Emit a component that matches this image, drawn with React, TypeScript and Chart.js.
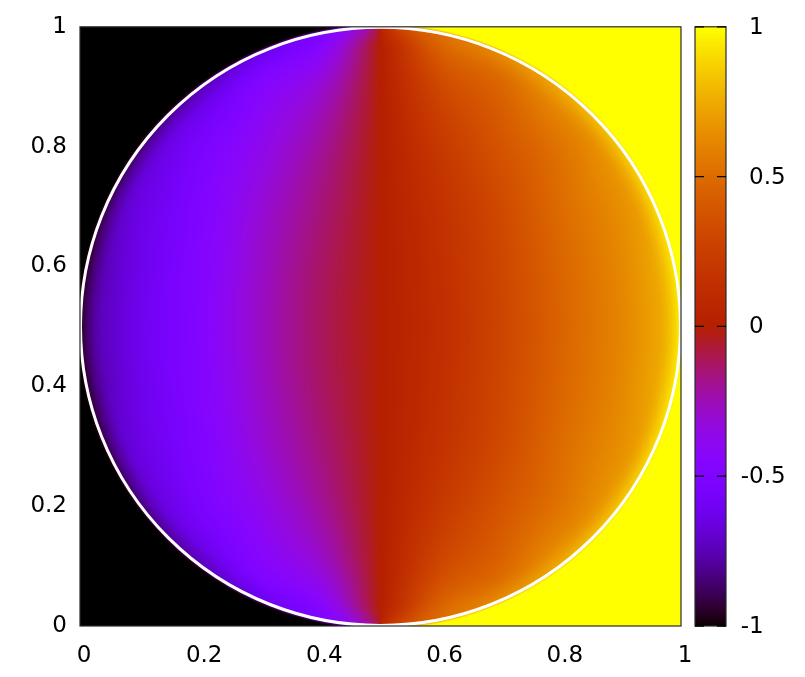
import React, { useEffect, useRef } from "react";
import { Chart, registerables } from "chart.js";

Chart.register(...registerables);

// ---- data ----
const xTicks = [0, 0.2, 0.4, 0.6, 0.8, 1];
const yTicks = [0, 0.2, 0.4, 0.6, 0.8, 1];
const cbTicks = [-1, -0.5, 0, 0.5, 1];
const cbMin = -1;
const cbMax = 1;

// grid nodes of the field
const gridX = [0, 0.1, 0.2, 0.3, 0.4, 0.5, 0.6, 0.7, 0.8, 0.9, 1];
const gridY = [0, 0.1, 0.2, 0.3, 0.4, 0.5, 0.6, 0.7, 0.8, 0.9, 1];
// fieldRows[j][i] = value at (gridX[i], gridY[j]) inside the disc
const fieldRows = [
  [-0.85, -0.85, -0.8, -0.65, -0.5, 0.0, 0.5, 0.65, 0.8, 0.85, 0.85],
  [-0.85, -0.8, -0.68, -0.47, -0.31, 0.0, 0.31, 0.47, 0.68, 0.8, 0.85],
  [-0.85, -0.72, -0.54, -0.38, -0.21, 0.0, 0.21, 0.38, 0.54, 0.72, 0.85],
  [-0.82, -0.65, -0.5, -0.32, -0.16, 0.0, 0.16, 0.32, 0.5, 0.65, 0.82],
  [-0.8, -0.63, -0.48, -0.29, -0.13, 0.0, 0.14, 0.3, 0.47, 0.62, 0.8],
  [-0.78, -0.62, -0.47, -0.28, -0.12, 0.0, 0.13, 0.29, 0.46, 0.61, 0.78],
  [-0.8, -0.63, -0.48, -0.29, -0.13, 0.0, 0.14, 0.3, 0.47, 0.62, 0.8],
  [-0.82, -0.65, -0.5, -0.32, -0.16, 0.0, 0.16, 0.32, 0.5, 0.65, 0.82],
  [-0.85, -0.72, -0.54, -0.38, -0.21, 0.0, 0.21, 0.38, 0.54, 0.72, 0.85],
  [-0.85, -0.8, -0.68, -0.47, -0.31, 0.0, 0.31, 0.47, 0.68, 0.8, 0.85],
  [-0.85, -0.85, -0.8, -0.65, -0.5, 0.0, 0.5, 0.65, 0.8, 0.85, 0.85],
];

// values just inside the white rim, by elevation angle (degrees)
const rimAngles = [-90, -87, -83, -75, -60, -45, -30, -15, 0, 15, 30, 45, 60, 75, 83, 87, 90];
const rimLeft = [-0.05, -0.28, -0.42, -0.55, -0.7, -0.82, -0.9, -0.95, -0.97, -0.95, -0.9, -0.82, -0.7, -0.55, -0.42, -0.28, -0.05];
const rimRight = [0.05, 0.28, 0.42, 0.55, 0.7, 0.82, 0.9, 0.95, 0.97, 0.95, 0.9, 0.82, 0.7, 0.55, 0.42, 0.28, 0.05];

const outsideLeft = -1;
const outsideRight = 1;
const circleCenterX = 0.5;
const circleCenterY = 0.5;
const circleRadius = 0.5;

// ---- rendering helpers ----
const FONT = "'DejaVu Sans', sans-serif";
const FONT_SIZE = 23;
const INNER_FRINGE = 0.04;
const OUTER_FRINGE = 0.006;

const clamp = (v: number, a: number, b: number) => Math.max(a, Math.min(b, v));

function palette(v: number): [number, number, number] {
  // gnuplot default palette (rgbformulae 7,5,15)
  const g = clamp((v - cbMin) / (cbMax - cbMin), 0, 1);
  const r = Math.sqrt(g);
  const gg = g * g * g;
  const b = Math.max(0, Math.sin(2 * Math.PI * g));
  return [Math.round(255 * r), Math.round(255 * gg), Math.round(255 * b)];
}

function interp1(xs: number[], ys: number[], x: number) {
  if (x <= xs[0]) return ys[0];
  for (let i = 1; i < xs.length; i++) {
    if (x <= xs[i]) {
      const t = (x - xs[i - 1]) / (xs[i] - xs[i - 1]);
      return ys[i - 1] + t * (ys[i] - ys[i - 1]);
    }
  }
  return ys[ys.length - 1];
}

function cubic(p0: number, p1: number, p2: number, p3: number, t: number) {
  return (
    p1 +
    0.5 * t * (p2 - p0 + t * (2 * p0 - 5 * p1 + 4 * p2 - p3 + t * (3 * (p1 - p2) + p3 - p0)))
  );
}

function gridAt(j: number, i: number) {
  const jj = clamp(j, 0, gridY.length - 1);
  const ii = clamp(i, 0, gridX.length - 1);
  return fieldRows[jj][ii];
}

function sampleGrid(xv: number, yv: number) {
  const fx = ((xv - gridX[0]) / (gridX[gridX.length - 1] - gridX[0])) * (gridX.length - 1);
  const fy = ((yv - gridY[0]) / (gridY[gridY.length - 1] - gridY[0])) * (gridY.length - 1);
  const i = clamp(Math.floor(fx), 0, gridX.length - 2);
  const j = clamp(Math.floor(fy), 0, gridY.length - 2);
  const tx = fx - i;
  const ty = fy - j;
  const rows: number[] = [];
  for (let m = -1; m <= 2; m++) {
    rows.push(cubic(gridAt(j + m, i - 1), gridAt(j + m, i), gridAt(j + m, i + 1), gridAt(j + m, i + 2), tx));
  }
  return cubic(rows[0], rows[1], rows[2], rows[3], ty);
}

function fieldValue(xv: number, yv: number) {
  const dx = xv - circleCenterX;
  const dy = yv - circleCenterY;
  const r = Math.hypot(dx, dy);
  const left = dx < 0;
  const phi = r > 0 ? (Math.asin(clamp(dy / r, -1, 1)) * 180) / Math.PI : 0;
  const rim = interp1(rimAngles, left ? rimLeft : rimRight, phi);
  if (r > circleRadius) {
    const out = left ? outsideLeft : outsideRight;
    const e = (r - circleRadius) / OUTER_FRINGE;
    if (e < 1) {
      const w = (1 - e) * (1 - e);
      return out * (1 - w) + rim * w;
    }
    return out;
  }
  const f = sampleGrid(xv, yv);
  const d = circleRadius - r;
  if (d < INNER_FRINGE) {
    const w = (1 - d / INNER_FRINGE) ** 2;
    return f * (1 - w) + rim * w;
  }
  return f;
}

const heatmapPlugin = {
  id: "heatmap",
  beforeDatasetsDraw(chart: any) {
    const { ctx, chartArea, scales } = chart;
    const xs = scales.x;
    const ys = scales.y;
    const left = Math.round(chartArea.left);
    const top = Math.round(chartArea.top);
    const w = Math.round(chartArea.right) - left;
    const h = Math.round(chartArea.bottom) - top;
    const off = document.createElement("canvas");
    off.width = w;
    off.height = h;
    const octx = off.getContext("2d")!;
    const img = octx.createImageData(w, h);
    for (let j = 0; j < h; j++) {
      const yv = ys.getValueForPixel(top + j + 0.5);
      for (let i = 0; i < w; i++) {
        const xv = xs.getValueForPixel(left + i + 0.5);
        const [r, g, b] = palette(fieldValue(xv, yv));
        const k = (j * w + i) * 4;
        img.data[k] = r;
        img.data[k + 1] = g;
        img.data[k + 2] = b;
        img.data[k + 3] = 255;
      }
    }
    octx.putImageData(img, 0, 0);
    ctx.save();
    ctx.drawImage(off, left, top);
    ctx.restore();
  },
  afterDatasetsDraw(chart: any) {
    const { ctx, chartArea, scales } = chart;
    const xs = scales.x;
    const ys = scales.y;
    const cx = xs.getPixelForValue(circleCenterX);
    const cy = ys.getPixelForValue(circleCenterY);
    const rx = xs.getPixelForValue(circleCenterX + circleRadius) - cx;
    const ry = cy - ys.getPixelForValue(circleCenterY + circleRadius);
    ctx.save();
    ctx.strokeStyle = "#ffffff";
    ctx.lineWidth = 3;
    ctx.beginPath();
    ctx.ellipse(cx, cy, rx - 0.5, ry - 0.5, 0, 0, Math.PI * 2);
    ctx.stroke();
    // plot border
    ctx.strokeStyle = "#2a2a2a";
    ctx.lineWidth = 1.2;
    ctx.strokeRect(chartArea.left, chartArea.top, chartArea.right - chartArea.left, chartArea.bottom - chartArea.top);
    ctx.restore();
  },
  afterDraw(chart: any) {
    const { ctx, chartArea, scales } = chart;
    const cb = scales.cb;
    const cbLeft = chartArea.right + 14;
    const cbWidth = 31;
    const cbRight = cbLeft + cbWidth;
    const top = cb.getPixelForValue(cbMax);
    const bottom = cb.getPixelForValue(cbMin);
    ctx.save();
    for (let p = Math.floor(top); p < Math.ceil(bottom); p++) {
      const v = cb.getValueForPixel(p + 0.5);
      const [r, g, b] = palette(v);
      ctx.fillStyle = `rgb(${r},${g},${b})`;
      ctx.fillRect(cbLeft, p, cbWidth, 1);
    }
    ctx.strokeStyle = "#2a2a2a";
    ctx.lineWidth = 1.2;
    ctx.strokeRect(cbLeft, top, cbWidth, bottom - top);
    ctx.strokeStyle = "#000000";
    ctx.lineWidth = 1.3;
    ctx.font = `${FONT_SIZE}px ${FONT}`;
    ctx.fillStyle = "#000000";
    ctx.textBaseline = "middle";
    ctx.textAlign = "left";
    const minusW = ctx.measureText("-").width;
    const labelX = cbRight + 23;
    for (const v of cbTicks) {
      const py = cb.getPixelForValue(v);
      ctx.beginPath();
      ctx.moveTo(cbLeft, py);
      ctx.lineTo(cbLeft + 9, py);
      ctx.moveTo(cbRight - 9, py);
      ctx.lineTo(cbRight, py);
      ctx.stroke();
      const label = String(v);
      const x = label.startsWith("-") ? labelX - minusW : labelX;
      ctx.fillText(label, x, py + 1);
    }
    ctx.restore();
  },
};

export default function App() {
  const canvasRef = useRef<HTMLCanvasElement | null>(null);

  useEffect(() => {
    if (!canvasRef.current) return;
    const chart = new Chart(canvasRef.current, {
      type: "scatter",
      data: { datasets: [{ data: [], pointRadius: 0 }] },
      options: {
        animation: false,
        responsive: false,
        devicePixelRatio: 1,
        layout: { padding: { left: 0, right: 124, top: 25, bottom: 0 } },
        plugins: { legend: { display: false }, tooltip: { enabled: false } },
        scales: {
          x: {
            type: "linear",
            min: 0,
            max: 1,
            grid: { display: false, drawTicks: false },
            border: { display: false },
            afterBuildTicks: (s: any) => {
              s.ticks = xTicks.map((v) => ({ value: v }));
            },
            afterFit: (s: any) => {
              s.height = 51;
            },
            ticks: {
              padding: 16,
              labelOffset: 4,
              color: "#000",
              font: { family: FONT, size: FONT_SIZE },
              callback: (v: any) => String(v),
              maxRotation: 0,
            },
          },
          y: {
            type: "linear",
            min: 0,
            max: 1,
            grid: { display: false, drawTicks: false },
            border: { display: false },
            afterBuildTicks: (s: any) => {
              s.ticks = yTicks.map((v) => ({ value: v }));
            },
            afterFit: (s: any) => {
              s.width = 80;
            },
            ticks: {
              padding: 13,
              color: "#000",
              font: { family: FONT, size: FONT_SIZE },
              callback: (v: any) => String(v),
            },
          },
          cb: {
            type: "linear",
            position: "right",
            display: false,
            min: cbMin,
            max: cbMax,
          },
        },
      },
      plugins: [heatmapPlugin],
    } as any);
    return () => chart.destroy();
  }, []);

  return (
    <div style={{ position: "absolute", left: 0, top: 0, width: 805, height: 677, background: "#fff" }}>
      <canvas ref={canvasRef} width={805} height={677} style={{ display: "block" }} />
    </div>
  );
}
